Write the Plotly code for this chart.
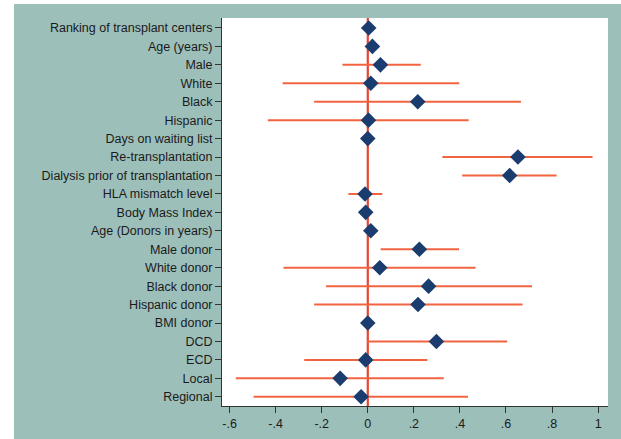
import plotly.graph_objects as go

categories = ["Ranking of transplant centers", "Age (years)", "Male", "White", "Black",
              "Hispanic", "Days on waiting list", "Re-transplantation",
              "Dialysis prior of transplantation", "HLA mismatch level", "Body Mass Index",
              "Age (Donors in years)", "Male donor", "White donor", "Black donor",
              "Hispanic donor", "BMI donor", "DCD", "ECD", "Local", "Regional"]
estimates = [0.004, 0.02, 0.055, 0.013, 0.217, 0.003, 0.0, 0.652, 0.616, -0.012, -0.009,
             0.013, 0.224, 0.052, 0.264, 0.218, 0.0, 0.298, -0.009, -0.12, -0.029]
ci_low = [-0.002, 0.014, -0.11, -0.37, -0.233, -0.434, -0.004, 0.324, 0.41, -0.084, -0.013,
          0.008, 0.056, -0.366, -0.181, -0.233, -0.003, -0.004, -0.276, -0.573, -0.496]
ci_high = [0.01, 0.026, 0.23, 0.397, 0.665, 0.438, 0.004, 0.976, 0.82, 0.063, -0.005,
           0.018, 0.396, 0.468, 0.713, 0.672, 0.003, 0.605, 0.259, 0.33, 0.435]
x_ticks = [-0.6, -0.4, -0.2, 0, 0.2, 0.4, 0.6, 0.8, 1]
x_tick_labels = ["-.6", "-.4", "-.2", "0", ".2", ".4", ".6", ".8", "1"]

ypos = list(range(len(categories)))
plus = [h - e for h, e in zip(ci_high, estimates)]
minus = [e - l for e, l in zip(estimates, ci_low)]

W, H = 621, 439
ML, MR, MT, MB = 222, 13, 18, 33
PW, PH = W - ML - MR, H - MT - MB

fig = go.Figure()
fig.add_trace(go.Scatter(x=[0, 0], y=[-0.6, 20.6], mode="lines",
                         line=dict(color="#e8452f", width=2.2), hoverinfo="skip",
                         showlegend=False))
fig.add_trace(go.Scatter(
    x=estimates, y=ypos, mode="markers",
    marker=dict(symbol="diamond", size=12, color="#1b3c6e"),
    error_x=dict(type="data", symmetric=False, array=plus, arrayminus=minus,
                 color="#f26440", thickness=2, width=0),
    showlegend=False))

fig.update_layout(
    width=W, height=H,
    margin=dict(l=ML, r=MR, t=MT, b=MB, autoexpand=False),
    paper_bgcolor="white",
    plot_bgcolor="white",
    font=dict(family="Liberation Sans, Arial, sans-serif", size=12.5, color="#1a1a1a"),
    shapes=[
        dict(type="rect", xref="paper", yref="paper",
             x0=-(ML - 14) / PW, x1=1 + (MR + 5) / PW,
             y0=-(MB + 5) / PH, y1=1 + (MT - 4) / PH,
             fillcolor="#9dbfba", line=dict(width=0), layer="below"),
        dict(type="rect", xref="x domain", yref="y domain", x0=0, x1=1, y0=0, y1=1,
             fillcolor="white", line=dict(width=0), layer="below"),
    ],
)
fig.update_xaxes(range=[-0.633, 1.043], tickvals=x_ticks, ticktext=x_tick_labels,
                 automargin=False,
                 showgrid=False, zeroline=False, showline=True, linecolor="#333333",
                 linewidth=1, ticks="outside", ticklen=6, tickcolor="#333333",
                 tickfont=dict(size=12.5, color="#1a1a1a"))
fig.update_yaxes(range=[20.5, -0.54], tickvals=ypos, ticktext=categories,
                 automargin=False,
                 showgrid=False, zeroline=False, showline=True, linecolor="#333333",
                 linewidth=1, ticks="outside", ticklen=6, tickcolor="#333333",
                 tickfont=dict(size=12.5, color="#1a1a1a"))

fig.write_html("out.html", config={"displayModeBar": False},
               post_script="document.body.style.margin='0';document.body.style.padding='0';")
